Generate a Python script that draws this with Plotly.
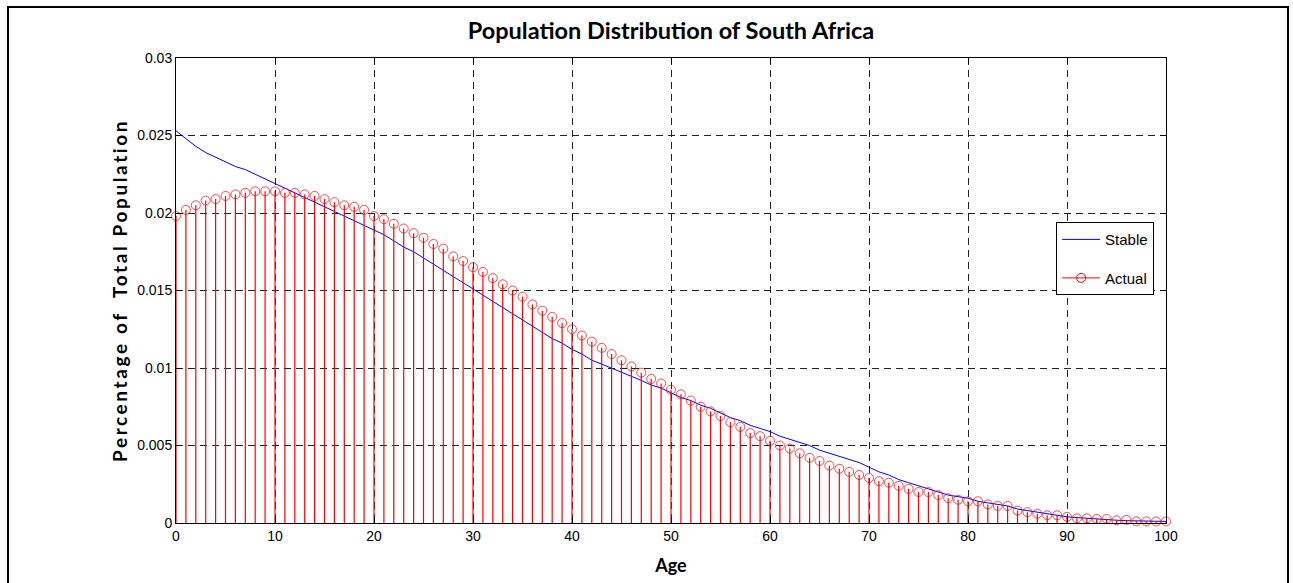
import plotly.graph_objects as go

ages = list(range(0, 101))

actual = [
    0.0198, 0.0202, 0.0205, 0.0208, 0.0209, 0.0211, 0.0212, 0.0213, 0.0214, 0.0214,
    0.0214, 0.0213, 0.0213, 0.0212, 0.0211, 0.0209, 0.0207, 0.0205, 0.0204, 0.0202,
    0.0198, 0.0196, 0.0193, 0.0190, 0.0187, 0.0184, 0.0180, 0.0177, 0.0172, 0.0169,
    0.0165, 0.0162, 0.0158, 0.0154, 0.0150, 0.0146, 0.0141, 0.0137, 0.0133, 0.0129,
    0.0125, 0.0121, 0.0117, 0.0113, 0.0109, 0.0105, 0.0101, 0.0097, 0.0093, 0.0090,
    0.0086, 0.0083, 0.0079, 0.0075, 0.0072, 0.0069, 0.0065, 0.0062, 0.0058, 0.0056,
    0.0053, 0.0050, 0.0048, 0.0045, 0.0042, 0.0040, 0.0037, 0.0035, 0.0033, 0.0031,
    0.0029, 0.0027, 0.0026, 0.0024, 0.0022, 0.0020, 0.0020, 0.0018, 0.0016, 0.0015,
    0.0014, 0.0014, 0.0012, 0.0011, 0.0011, 0.0008, 0.0007, 0.0006, 0.0005, 0.0005,
    0.0004, 0.0003, 0.0003, 0.00026, 0.00026, 0.00017, 0.0002, 0.00011, 0.0001, 0.0001,
    0.0001,
]

stable = [
    0.0253, 0.0248, 0.0243, 0.0239, 0.0236, 0.0233, 0.0230, 0.0228, 0.0225, 0.0222,
    0.0219, 0.0216, 0.0213, 0.0210, 0.0207, 0.0204, 0.0201, 0.0198, 0.0195, 0.0192,
    0.0189, 0.0186, 0.0182, 0.0178, 0.0175, 0.0171, 0.0167, 0.0163, 0.0159, 0.0155,
    0.0151, 0.0147, 0.0143, 0.0139, 0.0135, 0.0131, 0.0127, 0.0123, 0.0119, 0.0116,
    0.0112, 0.0109, 0.0105, 0.01025, 0.0100, 0.0097, 0.0095, 0.0092, 0.0089, 0.0087,
    0.0084, 0.0081, 0.0079, 0.0076, 0.0074, 0.0071, 0.0068, 0.0066, 0.0063, 0.0061,
    0.0059, 0.0056, 0.0054, 0.0052, 0.0050, 0.0047, 0.0045, 0.0043, 0.0041, 0.0039,
    0.0036, 0.0033, 0.0031, 0.0028, 0.0026, 0.0024, 0.0022, 0.0020, 0.0018, 0.0017,
    0.0016, 0.0014, 0.0013, 0.0012, 0.0011, 0.0009, 0.0008, 0.0007, 0.0006, 0.0005,
    0.0004, 0.00035, 0.0003, 0.00025, 0.0002, 0.00018, 0.00015, 0.00013, 0.00011, 0.0001,
    0.0001,
]

x_tick_vals = [0, 10, 20, 30, 40, 50, 60, 70, 80, 90, 100]
x_tick_text = ["0", "10", "20", "30", "40", "50", "60", "70", "80", "90", "100"]
y_tick_vals = [0, 0.005, 0.01, 0.015, 0.02, 0.025, 0.03]
y_tick_text = ["0", "0.005", "0.01", "0.015", "0.02", "0.025", "0.03"]

# stems built from the data arrays
stem_x, stem_y, stem_size = [], [], []
for a, v in zip(ages, actual):
    stem_x += [a, a, None]
    stem_y += [0, v, None]
    stem_size += [0, 9, 0]

tick_font = dict(family="Liberation Sans Narrow, Liberation Sans, Arial", size=14, color="black")
label_family = "Lato, Open Sans, sans-serif"

fig = go.Figure()
fig.add_trace(go.Scatter(
    x=ages, y=stable, mode="lines", name="Stable",
    line=dict(color="#0000ff", width=1), legendgroup="s",
))
fig.add_trace(go.Scatter(
    x=stem_x, y=stem_y, mode="lines+markers", name="Actual", showlegend=False,
    line=dict(color="#ff0000", width=1.2),
    marker=dict(symbol="circle-open", size=stem_size, color="#ff0000", line=dict(width=1, color="#ff0000")),
    cliponaxis=False,
))
# legend-only entry for the stem series
fig.add_trace(go.Scatter(
    x=[None], y=[None], mode="lines+markers", name="Actual", legendgroup="a",
    line=dict(color="#ff0000", width=1),
    marker=dict(symbol="circle-open", size=9, color="#ff0000", line=dict(width=1, color="#ff0000")),
))

axis_common = dict(
    showline=True, linecolor="black", linewidth=1, mirror="ticks",
    ticks="inside", ticklen=6, tickcolor="black", tickwidth=1,
    showgrid=True, gridcolor="#222222", gridwidth=1, griddash="7px,5px",
    zeroline=False, tickfont=tick_font,
)

fig.update_xaxes(range=[0, 100], tickvals=x_tick_vals, ticktext=x_tick_text,
                 title=dict(text="<b>Age</b>", font=dict(family=label_family, size=18, color="black"), standoff=16),
                 **axis_common)
fig.update_yaxes(range=[0, 0.03], tickvals=y_tick_vals, ticktext=y_tick_text,
                 title=dict(text="<b>Percentage of  Total Population</b>",
                            font=dict(family=label_family, size=19, color="black"), standoff=4),
                 **axis_common)

fig.update_layout(
    width=1293, height=583,
    margin=dict(l=176, r=127, t=58, b=60),
    paper_bgcolor="white", plot_bgcolor="white",
    title=dict(text="<b>Population Distribution of South Africa</b>",
               font=dict(family=label_family, size=23.5, color="black"),
               x=671 / 1293, xanchor="center", y=1 - 31 / 583, yanchor="middle"),
    legend=dict(x=0.889, y=0.647, xanchor="left", yanchor="top",
                bgcolor="white", bordercolor="black", borderwidth=1,
                font=dict(family="Liberation Sans Narrow, Liberation Sans, Arial", size=15, color="black"),
                itemwidth=38, tracegroupgap=16),
    shapes=[dict(type="rect", xref="paper", yref="paper",
                 x0=(8 - 176) / 990, x1=(1288 - 176) / 990,
                 y0=(523 - 600) / 465, y1=(523 - 7) / 465,
                 line=dict(color="black", width=2), fillcolor="rgba(0,0,0,0)", layer="below")],
)

post = """
document.querySelectorAll('.ytitle').forEach(function(e){ e.style.letterSpacing = '2.6px'; });
"""
fig.write_html("out.html", post_script=post)
